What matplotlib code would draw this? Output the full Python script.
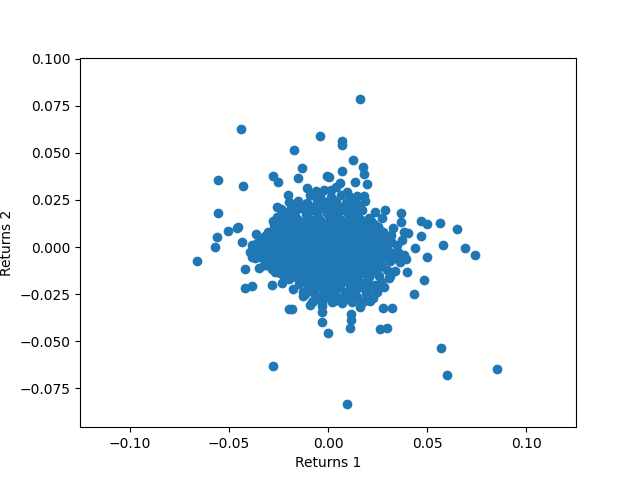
import matplotlib
matplotlib.use("Agg")
import matplotlib.pyplot as plt

# outlying points
outer_1 = [
    -0.0438, -0.0039, -0.0170, -0.0130, -0.0276, -0.0251, -0.0150, -0.0554, -0.0428, -0.0007,
    -0.0105, -0.0554, -0.0453, -0.0458, -0.0503, -0.0559, -0.0569, -0.0433, -0.0364, -0.0276,
    -0.0259, -0.0200, -0.0146, -0.0062, -0.0019, -0.0081,
    0.0163, 0.0072, 0.0072, 0.0128, 0.0178, 0.0183, 0.0072, 0.0005, 0.0138, 0.0198,
    0.0062, 0.0039, 0.0097, 0.0014, 0.0182, 0.0148, 0.0187, 0.0157, 0.0237, 0.0289,
    0.0370, 0.0370, 0.0274, 0.0254, 0.0330, 0.0468, 0.0501, 0.0567, 0.0648, 0.0471,
    0.0384, 0.0405, 0.0320, 0.0375, 0.0582, 0.0436, 0.0692,
    -0.0660, -0.0418, -0.0347, -0.0418, -0.0382, -0.0281, -0.0231, -0.0222, -0.0118, -0.0092,
    -0.0029, -0.0029, -0.0029, 0.0000, -0.0197, -0.0180, -0.0276, -0.0382, -0.0315,
    0.0498, 0.0739, 0.0395, 0.0400, 0.0486, 0.0315, 0.0431, 0.0266, 0.0246, 0.0214,
    0.0163, 0.0279, 0.0325, 0.0118, 0.0118, 0.0113, 0.0263, 0.0295, 0.0572, 0.0602,
    0.0850, 0.0097,
]
outer_2 = [
    0.0626, 0.0589, 0.0514, 0.0419, 0.0376, 0.0347, 0.0365, 0.0355, 0.0323, 0.0376,
    0.0312, 0.0179, 0.0108, 0.0099, 0.0084, 0.0052, 0.0002, 0.0025, 0.0069, 0.0140,
    0.0214, 0.0277, 0.0218, 0.0298, 0.0303, 0.0197,
    0.0786, 0.0562, 0.0541, 0.0461, 0.0424, 0.0387, 0.0404, 0.0374, 0.0344, 0.0334,
    0.0339, 0.0321, 0.0294, 0.0303, 0.0273, 0.0273, 0.0246, 0.0223, 0.0185, 0.0197,
    0.0179, 0.0131, 0.0153, 0.0108, 0.0099, 0.0137, 0.0121, 0.0126, 0.0094, 0.0059,
    0.0081, 0.0076, 0.0064, 0.0037, 0.0011, -0.0004, -0.0007,
    -0.0076, -0.0119, -0.0112, -0.0220, -0.0209, -0.0204, -0.0193, -0.0161, -0.0250, -0.0309,
    -0.0312, -0.0347, -0.0401, -0.0459, -0.0331, -0.0331, -0.0635, -0.0052, -0.0096,
    -0.0052, -0.0044, -0.0065, -0.0135, -0.0176, -0.0153, -0.0252, -0.0188, -0.0238, -0.0289,
    -0.0321, -0.0326, -0.0326, -0.0358, -0.0388, -0.0433, -0.0438, -0.0433, -0.0539, -0.0683,
    -0.0651, -0.0837,
]

# dense middle of the cloud, estimated by eye
core_1 = [
    -0.0195, -0.0150, -0.0105, -0.0055, -0.0015, 0.0040, 0.0090, 0.0135,
    -0.0235, -0.0190, -0.0130, -0.0080, -0.0030, 0.0025, 0.0070, 0.0120, 0.0170,
    -0.0255, -0.0210, -0.0160, -0.0105, -0.0050, 0.0005, 0.0050, 0.0105, 0.0150, 0.0205,
    -0.0270, -0.0225, -0.0175, -0.0120, -0.0070, -0.0015, 0.0035, 0.0085, 0.0135, 0.0185, 0.0230,
    -0.0300, -0.0245, -0.0195, -0.0140, -0.0090, -0.0035, 0.0015, 0.0065, 0.0120, 0.0170, 0.0225, 0.0275,
    -0.0345, -0.0300, -0.0250, -0.0205, -0.0150, -0.0100, -0.0045, 0.0005, 0.0055, 0.0110, 0.0160, 0.0210, 0.0265, 0.0310,
    -0.0385, -0.0340, -0.0285, -0.0235, -0.0180, -0.0130, -0.0075, -0.0020, 0.0030, 0.0085, 0.0135, 0.0185, 0.0240, 0.0295, 0.0350,
    -0.0395, -0.0350, -0.0300, -0.0250, -0.0195, -0.0145, -0.0090, -0.0040, 0.0015, 0.0065, 0.0115, 0.0170, 0.0220, 0.0275, 0.0330, 0.0385,
    -0.0370, -0.0320, -0.0265, -0.0215, -0.0160, -0.0110, -0.0055, -0.0005, 0.0050, 0.0100, 0.0155, 0.0205, 0.0260, 0.0315, 0.0365,
    -0.0325, -0.0280, -0.0225, -0.0175, -0.0125, -0.0070, -0.0020, 0.0035, 0.0085, 0.0140, 0.0190, 0.0245, 0.0295, 0.0340,
    -0.0265, -0.0215, -0.0160, -0.0110, -0.0055, -0.0005, 0.0050, 0.0100, 0.0150, 0.0205, 0.0255, 0.0305,
    -0.0195, -0.0145, -0.0095, -0.0040, 0.0010, 0.0060, 0.0115, 0.0165, 0.0235, 0.0280,
    -0.0175, -0.0125, -0.0070, -0.0020, 0.0035, 0.0085, 0.0135, 0.0190, 0.0240,
    -0.0125, -0.0075, -0.0025, 0.0030, 0.0080, 0.0130, 0.0180, 0.0225,
    -0.0080, -0.0030, 0.0020, 0.0070, 0.0120, 0.0170,
]
core_2 = [
    0.0240, 0.0245, 0.0235, 0.0250, 0.0240, 0.0245, 0.0235, 0.0240,
    0.0200, 0.0195, 0.0205, 0.0195, 0.0210, 0.0200, 0.0195, 0.0205, 0.0195,
    0.0160, 0.0165, 0.0155, 0.0165, 0.0160, 0.0170, 0.0155, 0.0165, 0.0160, 0.0155,
    0.0120, 0.0125, 0.0115, 0.0125, 0.0120, 0.0115, 0.0130, 0.0120, 0.0115, 0.0125, 0.0120,
    0.0080, 0.0085, 0.0075, 0.0085, 0.0080, 0.0075, 0.0085, 0.0080, 0.0075, 0.0085, 0.0075, 0.0080,
    0.0035, 0.0045, 0.0040, 0.0035, 0.0045, 0.0040, 0.0035, 0.0045, 0.0040, 0.0035, 0.0045, 0.0040, 0.0035, 0.0040,
    0.0010, 0.0000, 0.0005, -0.0005, 0.0005, 0.0000, -0.0005, 0.0005, 0.0000, 0.0005, -0.0005, 0.0000, 0.0005, 0.0000, 0.0010,
    -0.0025, -0.0040, -0.0035, -0.0045, -0.0035, -0.0040, -0.0045, -0.0035, -0.0040, -0.0035, -0.0045, -0.0035, -0.0040, -0.0035, -0.0030, -0.0040,
    -0.0060, -0.0075, -0.0080, -0.0070, -0.0080, -0.0075, -0.0085, -0.0075, -0.0080, -0.0070, -0.0080, -0.0075, -0.0085, -0.0075, -0.0080,
    -0.0095, -0.0115, -0.0120, -0.0110, -0.0120, -0.0115, -0.0125, -0.0115, -0.0120, -0.0110, -0.0120, -0.0115, -0.0120, -0.0125,
    -0.0135, -0.0130, -0.0160, -0.0155, -0.0165, -0.0155, -0.0160, -0.0165, -0.0155, -0.0160, -0.0155, -0.0165,
    -0.0170, -0.0195, -0.0205, -0.0195, -0.0205, -0.0200, -0.0195, -0.0205, -0.0200, -0.0210,
    -0.0225, -0.0240, -0.0245, -0.0235, -0.0245, -0.0240, -0.0235, -0.0245, -0.0240,
    -0.0260, -0.0285, -0.0275, -0.0285, -0.0280, -0.0275, -0.0285, -0.0270,
    -0.0290, -0.0300, -0.0295, -0.0300, -0.0295, -0.0290,
]

# more points between the rows above, the middle is almost solid in the reference
fill_1 = [
    -0.0090, -0.0040, 0.0015, 0.0065,
    -0.0175, -0.0125, -0.0075, -0.0025, 0.0020, 0.0075, 0.0110, 0.0150,
    -0.0215, -0.0165, -0.0110, -0.0055, -0.0005, 0.0045, 0.0095, 0.0145,
    -0.0250, -0.0190, -0.0140, -0.0085, -0.0035, 0.0020, 0.0065, 0.0120, 0.0170, 0.0215,
    -0.0270, -0.0220, -0.0165, -0.0115, -0.0060, -0.0010, 0.0040, 0.0095, 0.0145, 0.0200, 0.0250,
    -0.0320, -0.0275, -0.0225, -0.0170, -0.0120, -0.0065, -0.0015, 0.0035, 0.0090, 0.0140, 0.0195, 0.0250, 0.0290,
    -0.0360, -0.0310, -0.0260, -0.0205, -0.0155, -0.0100, -0.0050, 0.0005, 0.0060, 0.0110, 0.0160, 0.0215, 0.0265, 0.0320,
    -0.0365, -0.0320, -0.0275, -0.0220, -0.0170, -0.0115, -0.0065, -0.0010, 0.0040, 0.0090, 0.0145, 0.0195, 0.0250, 0.0300, 0.0355,
    -0.0345, -0.0290, -0.0240, -0.0185, -0.0135, -0.0080, -0.0030, 0.0025, 0.0075, 0.0130, 0.0180, 0.0235, 0.0285, 0.0340,
    -0.0300, -0.0250, -0.0200, -0.0145, -0.0095, -0.0045, 0.0010, 0.0060, 0.0110, 0.0165, 0.0215, 0.0270,
    -0.0240, -0.0185, -0.0135, -0.0080, -0.0030, 0.0025, 0.0075, 0.0125, 0.0180, 0.0230,
    -0.0120, -0.0070, -0.0015, 0.0035, 0.0090, 0.0140, 0.0195,
    -0.0100, -0.0050, 0.0005, 0.0055, 0.0110, 0.0160, 0.0210,
    -0.0050, -0.0005, 0.0045, 0.0095, 0.0145, 0.0195,
]
fill_2 = [
    0.0275, 0.0270, 0.0265, 0.0275,
    0.0220, 0.0225, 0.0215, 0.0225, 0.0220, 0.0215, 0.0265, 0.0220,
    0.0180, 0.0185, 0.0175, 0.0185, 0.0180, 0.0175, 0.0185, 0.0180,
    0.0140, 0.0145, 0.0135, 0.0145, 0.0140, 0.0135, 0.0145, 0.0140, 0.0135, 0.0140,
    0.0100, 0.0105, 0.0095, 0.0105, 0.0100, 0.0095, 0.0105, 0.0100, 0.0095, 0.0100, 0.0105,
    0.0060, 0.0065, 0.0055, 0.0065, 0.0060, 0.0055, 0.0065, 0.0060, 0.0055, 0.0065, 0.0060, 0.0055, 0.0060,
    0.0020, 0.0025, 0.0015, 0.0025, 0.0020, 0.0015, 0.0025, 0.0020, 0.0015, 0.0025, 0.0020, 0.0015, 0.0020, 0.0025,
    -0.0020, -0.0015, -0.0025, -0.0015, -0.0020, -0.0025, -0.0015, -0.0020, -0.0025, -0.0015, -0.0020, -0.0025, -0.0015, -0.0020, -0.0025,
    -0.0055, -0.0060, -0.0055, -0.0060, -0.0055, -0.0060, -0.0055, -0.0060, -0.0055, -0.0060, -0.0055, -0.0060, -0.0055, -0.0060,
    -0.0095, -0.0100, -0.0095, -0.0100, -0.0095, -0.0100, -0.0095, -0.0100, -0.0095, -0.0100, -0.0095, -0.0100,
    -0.0140, -0.0135, -0.0140, -0.0135, -0.0140, -0.0135, -0.0140, -0.0135, -0.0140, -0.0135,
    -0.0180, -0.0175, -0.0180, -0.0175, -0.0180, -0.0175, -0.0180,
    -0.0220, -0.0215, -0.0220, -0.0215, -0.0220, -0.0215, -0.0220,
    -0.0265, -0.0260, -0.0265, -0.0260, -0.0265, -0.0260,
]

# last layer, closes the small gaps right in the centre
centre_1 = [
    -0.0150, -0.0100, -0.0050, 0.0000, 0.0055, 0.0105, 0.0160,
    -0.0200, -0.0150, -0.0095, -0.0045, 0.0010, 0.0060, 0.0115, 0.0165,
    -0.0230, -0.0180, -0.0125, -0.0075, -0.0020, 0.0030, 0.0085, 0.0135, 0.0190,
    -0.0280, -0.0225, -0.0175, -0.0120, -0.0070, -0.0015, 0.0035, 0.0090, 0.0140, 0.0195, 0.0240,
    -0.0300, -0.0245, -0.0190, -0.0140, -0.0085, -0.0035, 0.0020, 0.0070, 0.0125, 0.0175, 0.0225,
    -0.0310, -0.0255, -0.0205, -0.0150, -0.0100, -0.0045, 0.0005, 0.0060, 0.0110, 0.0165, 0.0215, 0.0265,
    -0.0285, -0.0235, -0.0180, -0.0130, -0.0075, -0.0025, 0.0030, 0.0080, 0.0135, 0.0185, 0.0240,
    -0.0240, -0.0190, -0.0135, -0.0085, -0.0030, 0.0020, 0.0075, 0.0125, 0.0180, 0.0225,
    -0.0170, -0.0115, -0.0065, -0.0010, 0.0040, 0.0095, 0.0145, 0.0200,
    -0.0100, -0.0045, 0.0005, 0.0060, 0.0110, 0.0165,
]
centre_2 = [
    0.0205, 0.0210, 0.0205, 0.0210, 0.0205, 0.0210, 0.0205,
    0.0150, 0.0145, 0.0150, 0.0145, 0.0150, 0.0145, 0.0150, 0.0145,
    0.0105, 0.0110, 0.0105, 0.0110, 0.0105, 0.0110, 0.0105, 0.0110, 0.0105,
    0.0065, 0.0060, 0.0065, 0.0060, 0.0065, 0.0060, 0.0065, 0.0060, 0.0065, 0.0060, 0.0065,
    0.0025, 0.0020, 0.0025, 0.0020, 0.0025, 0.0020, 0.0025, 0.0020, 0.0025, 0.0020, 0.0025,
    -0.0015, -0.0020, -0.0015, -0.0020, -0.0015, -0.0020, -0.0015, -0.0020, -0.0015, -0.0020, -0.0015, -0.0020,
    -0.0060, -0.0055, -0.0060, -0.0055, -0.0060, -0.0055, -0.0060, -0.0055, -0.0060, -0.0055, -0.0060,
    -0.0100, -0.0105, -0.0100, -0.0105, -0.0100, -0.0105, -0.0100, -0.0105, -0.0100, -0.0105,
    -0.0150, -0.0145, -0.0150, -0.0145, -0.0150, -0.0145, -0.0150, -0.0145,
    -0.0195, -0.0190, -0.0195, -0.0190, -0.0195, -0.0190,
]

returns_1 = outer_1 + core_1 + fill_1 + centre_1
returns_2 = outer_2 + core_2 + fill_2 + centre_2

fig, ax = plt.subplots(figsize=(6.4, 4.8), dpi=100)
ax.scatter(returns_1, returns_2)
ax.set_xlim(-0.125, 0.125)
ax.set_ylim(-0.0958, 0.1007)
ax.set_xlabel("Returns 1")
ax.set_ylabel("Returns 2")

fig.savefig("out.png", dpi=100)
